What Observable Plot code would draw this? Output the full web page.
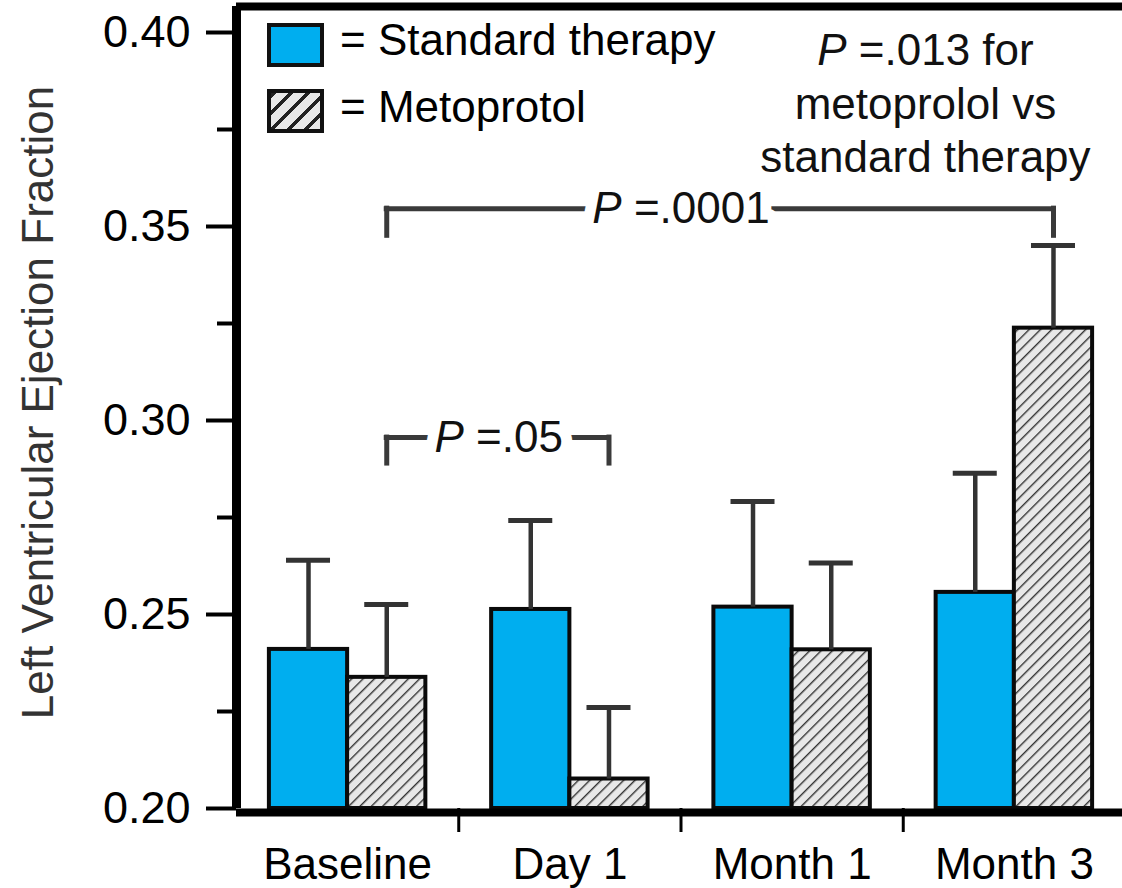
<!DOCTYPE html>
<html>
<head>
<meta charset="utf-8">
<script src="https://cdn.jsdelivr.net/npm/d3@7"></script>
<script src="https://cdn.jsdelivr.net/npm/@observablehq/plot@0.6"></script>
<style>
  html, body { margin: 0; padding: 0; background: #fff; }
  #wrap { position: relative; width: 1122px; height: 888px; font-family: "Liberation Sans", Arial, Helvetica, sans-serif; }
  .legrow { position: absolute; left: 267px; height: 44px; display: block; }
  .sw { position: absolute; left: 0; top: 0; width: 57px; height: 44px; box-sizing: border-box; border: 4px solid #111; }
  .lt { position: absolute; left: 73px; font-size: 44px; line-height: 44px; white-space: nowrap; color: #000; }
</style>
</head>
<body>
<div id="wrap"></div>
<script>
// ---- data ----
const groups = ["Baseline", "Day 1", "Month 1", "Month 3"];
const seriesNames = ["Standard therapy", "Metoprotol"];
const standardMean = [0.2410, 0.2513, 0.2519, 0.2557];
const standardErr  = [0.0230, 0.0229, 0.0272, 0.0307];
const metoprololMean = [0.2338, 0.2076, 0.2409, 0.3238];
const metoprololErr  = [0.0188, 0.0184, 0.0224, 0.0213];
const yTicks = [0.20, 0.25, 0.30, 0.35, 0.40];
const yMinorTicks = [0.225, 0.275, 0.325, 0.375];
const yLabel = "Left Ventricular Ejection Fraction";
const brackets = [
  {from: 0, to: 1, level: 0.2956, drop: 0.0067, label: "P =.05", labelX: 1.18},
  {from: 0, to: 3, level: 0.3546, drop: 0.0070, label: "P =.0001", labelX: 2.0}
];
const noteLines = ["P =.013 for", "metoprolol vs", "standard therapy"];
const noteX = 3.1, noteY = 0.4013;

// ---- layout constants (in group units) ----
const barStart = [0.148, 0.5];
const barW = 0.352;
const capHalf = 0.099;

const rows = [];
groups.forEach((g, i) => {
  rows.push({group: g, i, s: 0, mean: standardMean[i], err: standardErr[i]});
  rows.push({group: g, i, s: 1, mean: metoprololMean[i], err: metoprololErr[i]});
});
rows.forEach(d => { d.x1 = d.i + barStart[d.s]; d.x2 = d.x1 + barW; d.xc = d.x1 + barW / 2; d.top = d.mean + d.err; });
const std = rows.filter(d => d.s === 0);
const met = rows.filter(d => d.s === 1);
const metCenter = i => i + barStart[1] + barW / 2;

const plot = Plot.plot({
  width: 1122,
  height: 888,
  marginLeft: 236,
  marginRight: -3,
  marginTop: 6,
  marginBottom: 80,
  style: {fontFamily: "'Liberation Sans', Arial, Helvetica, sans-serif", fontSize: "45px", color: "#000", background: "#fff", overflow: "visible"},
  x: {domain: [0, groups.length], label: null},
  y: {domain: [0.2, 0.4067], label: null},
  marks: [
    // bars
    Plot.rect(std, {x1: "x1", x2: "x2", y1: 0.2, y2: "mean", fill: "#00AEEF", stroke: "#0a0a0a", strokeWidth: 4}),
    Plot.rect(met, {x1: "x1", x2: "x2", y1: 0.2, y2: "mean", fill: "url(#hatch)", stroke: "#0a0a0a", strokeWidth: 4}),
    // error bars
    Plot.ruleX(rows, {x: "xc", y1: "mean", y2: "top", stroke: "#333", strokeWidth: 4.5}),
    Plot.ruleY(rows, {x1: d => d.xc - capHalf, x2: d => d.xc + capHalf, y: "top", stroke: "#333", strokeWidth: 5}),
    // brackets
    Plot.ruleY(brackets, {x1: d => metCenter(d.from), x2: d => metCenter(d.to), y: "level", stroke: "#3a3a3a", strokeWidth: 5, strokeLinecap: "square"}),
    Plot.ruleX(brackets, {x: d => metCenter(d.from), y1: "level", y2: d => d.level - d.drop, stroke: "#3a3a3a", strokeWidth: 5, strokeLinecap: "square"}),
    Plot.ruleX(brackets, {x: d => metCenter(d.to), y1: "level", y2: d => d.level - d.drop, stroke: "#3a3a3a", strokeWidth: 5, strokeLinecap: "square"}),
    Plot.text(brackets, {x: "labelX", y: "level", text: "label", fontSize: 44, fill: "#111", stroke: "white", strokeWidth: 22, lineAnchor: "middle", textAnchor: "middle"}),
    // note
    Plot.text([noteLines.join("\n")], {x: noteX, y: noteY, fontSize: 44, fill: "#111", lineAnchor: "top", textAnchor: "middle", lineHeight: 1.216}),
    // frame
    Plot.ruleX([0], {stroke: "#000", strokeWidth: 9}),
    Plot.ruleY([0.4067], {stroke: "#000", strokeWidth: 8}),
    Plot.ruleY([0.2], {stroke: "#000", strokeWidth: 8, dy: 4}),
    // axes
    Plot.axisY({ticks: yTicks, tickSize: 30, tickPadding: 16, tickFormat: d3.format(".2f"), strokeWidth: 4, fontSize: 45, label: null}),
    Plot.axisY({ticks: yMinorTicks, tickSize: 19, tickFormat: () => "", strokeWidth: 4, label: null}),
    Plot.axisX({ticks: [1, 2, 3], tickSize: 24, tickFormat: () => "", strokeWidth: 3, label: null}),
    Plot.axisX({ticks: groups.map((g, i) => i + 0.5), tickSize: 0, tickPadding: 39, tickFormat: t => groups[Math.floor(t)], fontSize: 44, label: null}),
    // y title
    Plot.text([yLabel], {frameAnchor: "left", rotate: -90, dx: -184, dy: -5, lineAnchor: "bottom", textAnchor: "middle", fontSize: 44, fill: "#333"})
  ]
});

// pattern defs
const ns = "http://www.w3.org/2000/svg";
const svg = d3.select(plot);
const defs = svg.insert("defs", ":first-child");
function addHatch(id, size, sw) {
  const p = defs.append("pattern").attr("id", id).attr("patternUnits", "userSpaceOnUse")
    .attr("width", size).attr("height", size).attr("patternTransform", "rotate(45)");
  p.append("rect").attr("width", size).attr("height", size).attr("fill", "#e8e8e8");
  p.append("line").attr("x1", 0).attr("y1", 0).attr("x2", 0).attr("y2", size).attr("stroke", "#333").attr("stroke-width", sw);
}
addHatch("hatch", 8, 2.8);

// italic P
plot.querySelectorAll("text, tspan").forEach(el => {
  if (el.children.length === 0 && el.textContent.startsWith("P =")) {
    const rest = el.textContent.slice(1);
    el.textContent = "";
    const p = document.createElementNS(ns, "tspan");
    p.setAttribute("font-style", "italic");
    p.textContent = "P";
    const r = document.createElementNS(ns, "tspan");
    r.textContent = rest;
    el.append(p, r);
  }
});

const wrap = document.getElementById("wrap");
wrap.appendChild(plot);

// legend overlay
const legTops = [18, 85];
const legSwatchTops = [23, 89];
seriesNames.forEach((name, k) => {
  const row = document.createElement("div");
  row.className = "legrow";
  row.style.top = legSwatchTops[k] + "px";
  const sw = document.createElement("div");
  sw.className = "sw";
  if (k === 0) sw.style.background = "#00AEEF";
  else sw.style.background = "repeating-linear-gradient(-45deg, #e8e8e8 0px, #e8e8e8 8px, #222 8px, #222 12px)";
  const t = document.createElement("div");
  t.className = "lt";
  t.style.top = (legTops[k] - legSwatchTops[k]) + "px";
  t.textContent = "= " + name;
  row.append(sw, t);
  wrap.appendChild(row);
});
</script>
</body>
</html>
